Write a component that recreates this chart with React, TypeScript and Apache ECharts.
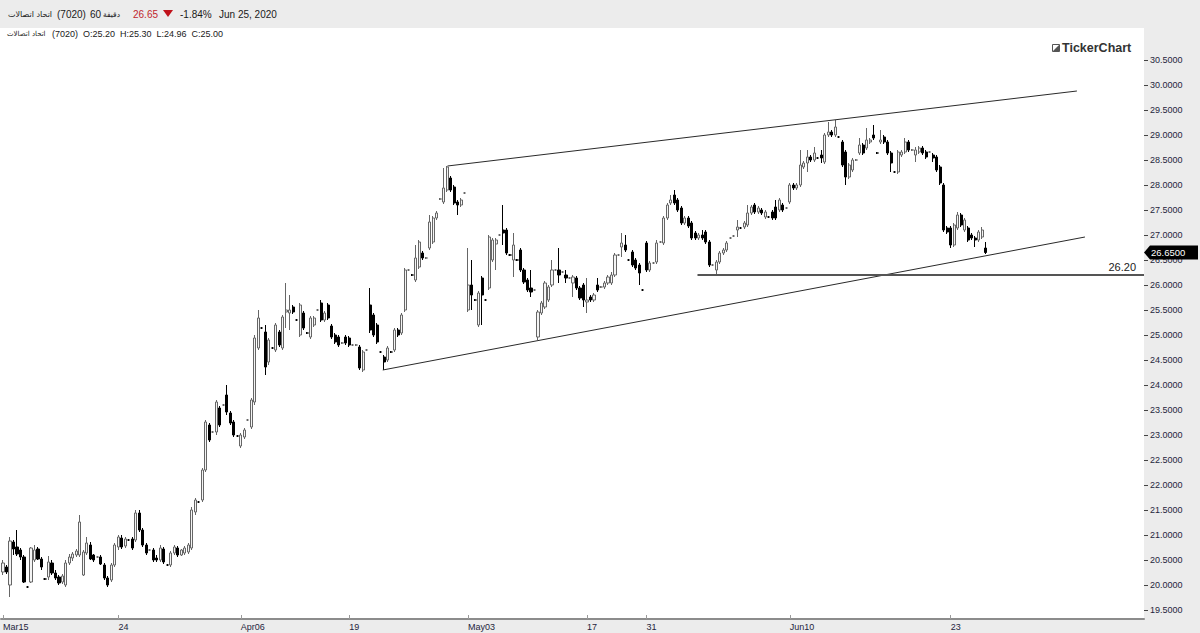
import React, { useEffect, useRef } from 'react';
import * as echarts from 'echarts';

// x-axis ticks: bar index -> label
const tickIndex = [0, 33, 68, 99, 133, 167, 184, 225, 271];
const tickLabels = ['Mar15', '24', 'Apr06', '19', 'May03', '17', '31', 'Jun10', '23'];

// y-axis tick values
const priceTicks = [19.5, 20, 20.5, 21, 21.5, 22, 22.5, 23, 23.5, 24, 24.5, 25, 25.5, 26, 26.5, 27, 27.5, 28, 28.5, 29, 29.5, 30, 30.5];

// hourly candles: [open, close, low, high]
const candles: number[][] = [
  [20.26, 20.44, 20.2, 20.5], [20.36, 20.26, 20.22, 20.4], [20.0, 20.88, 19.76, 20.96], [20.86, 20.72, 20.6, 20.9],
  [20.76, 20.62, 20.58, 21.1], [20.7, 20.56, 20.5, 20.74], [20.56, 20.06, 20.04, 20.6], [19.96, 19.96, 19.94, 19.98],
  [20.06, 20.74, 20.04, 20.76], [20.5, 20.7, 20.46, 20.8], [20.72, 20.52, 20.5, 20.76], [20.52, 20.36, 20.3, 20.56],
  [20.12, 20.12, 20.1, 20.14], [20.16, 20.46, 20.1, 20.58], [20.44, 20.24, 20.2, 20.5], [20.24, 20.14, 20.1, 20.3],
  [20.16, 20.04, 20.0, 20.2], [20.06, 20.18, 20.02, 20.22], [20.0, 20.44, 19.96, 20.5], [20.44, 20.56, 20.4, 20.62],
  [20.54, 20.62, 20.48, 20.66], [20.6, 20.68, 20.56, 20.72], [20.6, 21.26, 20.56, 21.4], [20.2, 20.66, 20.18, 20.7],
  [20.64, 20.84, 20.6, 20.96], [20.8, 20.52, 20.5, 20.86], [20.6, 20.5, 20.46, 20.62], [20.56, 20.56, 20.54, 20.58],
  [20.56, 20.42, 20.4, 20.6], [20.4, 20.14, 20.1, 20.44], [20.14, 20.0, 19.96, 20.18], [20.1, 20.4, 20.06, 20.44],
  [20.4, 20.8, 20.36, 20.84], [20.76, 20.96, 20.7, 21.0], [20.94, 20.76, 20.72, 21.0], [20.78, 20.92, 20.74, 20.96],
  [20.9, 20.9, 20.88, 20.92], [20.92, 20.74, 20.7, 20.96], [20.9, 21.44, 20.86, 21.5], [21.44, 21.1, 21.06, 21.5],
  [21.1, 20.8, 20.76, 21.14], [20.8, 20.64, 20.6, 20.84], [20.7, 20.7, 20.68, 20.72], [20.7, 20.5, 20.46, 20.74],
  [20.54, 20.5, 20.46, 20.6], [20.5, 20.74, 20.46, 20.8], [20.72, 20.46, 20.42, 20.76], [20.4, 20.4, 20.38, 20.42],
  [20.4, 20.64, 20.36, 20.68], [20.64, 20.76, 20.6, 20.8], [20.74, 20.6, 20.56, 20.78], [20.6, 20.7, 20.58, 20.72],
  [20.64, 20.74, 20.6, 20.78], [20.66, 20.8, 20.62, 20.84], [20.74, 21.5, 20.7, 21.56], [21.46, 21.7, 21.4, 21.74],
  [21.66, 21.66, 21.64, 21.68], [21.7, 22.3, 21.66, 22.34], [22.3, 23.26, 22.26, 23.3], [23.2, 22.9, 22.86, 23.24],
  [23.06, 23.06, 23.04, 23.08], [23.06, 23.66, 23.0, 23.7], [23.54, 23.2, 23.16, 23.58], [23.6, 23.6, 23.58, 23.62],
  [23.8, 23.46, 23.4, 24.0], [23.44, 23.24, 23.2, 23.48], [23.26, 23.0, 22.96, 23.3], [22.98, 22.98, 22.96, 23.0],
  [22.78, 23.0, 22.74, 23.04], [22.96, 23.1, 22.92, 23.14], [23.3, 23.3, 23.28, 23.32], [23.16, 23.7, 23.12, 23.74],
  [23.66, 24.94, 23.6, 25.0], [24.74, 25.34, 24.7, 25.5], [25.14, 25.14, 25.12, 25.16], [25.06, 24.36, 24.2, 25.2],
  [24.46, 24.9, 24.4, 24.94], [24.74, 24.74, 24.72, 24.76], [24.7, 25.2, 24.66, 25.24], [25.06, 24.8, 24.76, 25.1],
  [24.74, 25.36, 24.7, 25.4], [25.46, 25.5, 25.14, 26.04], [25.44, 25.5, 25.1, 25.8], [25.56, 25.46, 25.42, 25.6],
  [25.3, 25.3, 25.28, 25.32], [25.0, 25.6, 24.96, 25.64], [25.44, 25.14, 25.1, 25.48], [25.04, 25.04, 25.02, 25.06],
  [24.96, 25.34, 24.92, 25.38], [25.2, 25.34, 25.16, 25.38], [25.5, 25.5, 25.48, 25.52], [25.64, 25.3, 25.26, 25.7],
  [25.3, 25.44, 25.26, 25.48], [25.6, 25.34, 25.3, 25.64], [25.18, 24.96, 24.92, 25.22], [25.0, 24.86, 24.82, 25.04],
  [24.96, 24.8, 24.76, 25.0], [24.84, 24.84, 24.82, 24.86], [24.96, 24.84, 24.8, 25.0], [24.94, 24.8, 24.76, 24.98],
  [24.8, 24.8, 24.78, 24.82], [24.8, 24.8, 24.78, 24.82], [24.76, 24.34, 24.3, 24.8], [24.3, 24.66, 24.26, 24.7],
  [24.7, 24.7, 24.68, 24.72], [25.6, 25.1, 25.04, 25.94], [25.4, 25.0, 24.96, 25.44], [25.2, 24.86, 24.82, 25.24],
  [24.66, 24.66, 24.64, 24.68], [24.56, 24.46, 24.3, 24.6], [24.5, 24.74, 24.46, 24.78], [24.66, 24.66, 24.64, 24.68],
  [24.7, 25.1, 24.66, 25.14], [25.1, 25.0, 24.96, 25.14], [25.04, 25.4, 25.0, 25.44], [25.5, 26.3, 25.46, 26.34],
  [26.3, 26.3, 26.28, 26.32], [26.2, 26.2, 26.18, 26.22], [26.1, 26.54, 26.06, 26.8], [26.36, 26.86, 26.32, 26.9],
  [26.64, 26.54, 26.5, 26.68], [26.54, 26.54, 26.52, 26.56], [26.74, 27.26, 26.7, 27.4], [26.86, 27.34, 26.82, 27.38],
  [27.34, 27.44, 27.3, 27.48], [27.72, 27.72, 27.7, 27.74], [27.66, 27.94, 27.62, 28.34], [27.9, 28.36, 27.86, 28.38],
  [28.14, 27.9, 27.86, 28.18], [27.96, 27.64, 27.6, 28.0], [27.66, 27.6, 27.4, 27.7], [27.6, 27.7, 27.56, 27.74],
  [27.84, 27.84, 27.82, 27.86], [25.5, 26.0, 25.46, 26.74], [26.0, 25.8, 25.5, 26.5], [25.7, 25.7, 25.68, 25.72],
  [25.2, 25.84, 25.16, 25.88], [26.14, 25.8, 25.2, 26.18], [25.7, 25.7, 25.68, 25.72], [25.94, 26.96, 25.9, 27.0],
  [26.5, 26.9, 26.46, 26.94], [26.82, 26.9, 26.3, 26.94], [27.0, 27.0, 26.98, 27.02], [27.1, 27.04, 26.8, 27.6],
  [27.1, 26.64, 26.6, 27.14], [26.6, 26.6, 26.58, 26.62], [26.5, 26.8, 26.16, 27.04], [26.5, 26.5, 26.48, 26.52],
  [26.7, 26.3, 26.26, 26.74], [26.3, 26.06, 26.02, 26.34], [26.1, 25.9, 25.86, 26.14], [25.94, 25.86, 25.76, 26.3],
  [25.9, 25.9, 25.88, 25.92], [24.96, 25.46, 24.9, 25.5], [25.44, 25.64, 25.4, 25.68], [25.56, 26.04, 25.52, 26.08],
  [25.7, 25.96, 25.66, 26.0], [26.0, 26.3, 25.96, 26.5], [26.3, 26.3, 26.28, 26.32], [26.3, 26.2, 26.04, 26.74],
  [26.26, 26.26, 26.24, 26.28], [26.2, 26.14, 26.04, 26.3], [26.14, 26.14, 26.12, 26.16], [26.04, 26.16, 25.76, 26.2],
  [26.14, 25.94, 25.9, 26.18], [25.94, 25.74, 25.7, 25.98], [26.0, 25.7, 25.56, 26.04], [25.66, 25.7, 25.44, 26.14],
  [25.76, 25.7, 25.66, 25.8], [25.7, 25.8, 25.66, 25.84], [26.0, 25.9, 25.86, 26.14], [25.96, 25.96, 25.94, 25.98],
  [25.96, 26.04, 25.92, 26.08], [26.04, 26.16, 26.0, 26.2], [26.04, 26.2, 26.0, 26.26], [26.2, 26.6, 26.16, 26.64],
  [26.6, 26.6, 26.58, 26.62], [26.76, 26.84, 26.56, 27.04], [26.8, 26.7, 26.66, 27.0], [26.5, 26.5, 26.48, 26.52],
  [26.66, 26.4, 26.36, 26.7], [26.5, 26.34, 26.3, 26.54], [26.4, 26.24, 26.0, 26.44], [25.9, 25.9, 25.88, 25.92],
  [26.84, 26.3, 26.26, 26.88], [26.3, 26.44, 26.26, 26.48], [26.44, 26.44, 26.42, 26.46], [26.46, 26.84, 26.42, 26.9],
  [26.86, 26.86, 26.84, 26.88], [26.84, 27.34, 26.8, 27.38], [27.34, 27.6, 27.3, 27.64], [27.64, 27.7, 27.6, 27.8],
  [27.8, 27.64, 27.6, 27.9], [27.7, 27.5, 27.46, 27.74], [27.54, 27.24, 27.2, 27.58], [27.24, 27.34, 27.2, 27.38],
  [27.34, 27.18, 27.14, 27.38], [27.24, 26.94, 26.9, 27.28], [27.04, 26.94, 26.9, 27.08], [26.94, 27.0, 26.9, 27.04],
  [27.0, 26.94, 26.9, 27.1], [27.06, 26.86, 26.82, 27.1], [26.86, 26.4, 26.36, 26.9], [26.4, 26.4, 26.38, 26.42],
  [26.3, 26.46, 26.2, 26.5], [26.46, 26.64, 26.42, 26.68], [26.64, 26.7, 26.6, 26.74], [26.7, 26.84, 26.66, 26.88],
  [26.94, 26.94, 26.92, 26.96], [26.98, 26.98, 26.96, 27.0], [27.1, 27.16, 26.96, 27.3], [27.14, 27.14, 27.12, 27.16],
  [27.16, 27.24, 27.12, 27.28], [27.2, 27.44, 27.16, 27.6], [27.44, 27.56, 27.4, 27.6], [27.6, 27.46, 27.42, 27.64],
  [27.46, 27.54, 27.42, 27.58], [27.5, 27.44, 27.4, 27.54], [27.36, 27.46, 27.32, 27.5], [27.36, 27.36, 27.34, 27.38],
  [27.46, 27.34, 27.3, 27.5], [27.56, 27.34, 27.3, 27.7], [27.5, 27.7, 27.46, 27.74], [27.6, 27.5, 27.46, 27.64],
  [27.54, 27.54, 27.52, 27.56], [27.66, 28.0, 27.62, 28.04], [28.0, 27.94, 27.9, 28.04], [27.94, 28.0, 27.9, 28.04],
  [28.0, 28.4, 27.96, 28.7], [28.36, 28.44, 28.32, 28.48], [28.44, 28.56, 28.26, 28.7], [28.56, 28.5, 28.46, 28.6],
  [28.5, 28.64, 28.46, 28.76], [28.54, 28.54, 28.52, 28.56], [28.6, 28.54, 28.44, 28.7], [28.46, 29.0, 28.42, 29.04],
  [29.0, 29.06, 28.96, 29.26], [29.06, 29.0, 28.96, 29.1], [29.0, 29.16, 28.96, 29.3], [28.96, 28.96, 28.94, 28.98],
  [28.86, 28.4, 28.36, 28.9], [28.66, 28.16, 28.0, 28.7], [28.16, 28.4, 28.12, 28.44], [28.3, 28.5, 28.26, 28.54],
  [28.5, 28.5, 28.48, 28.52], [28.64, 28.8, 28.6, 28.94], [28.8, 28.64, 28.6, 28.84], [28.74, 28.9, 28.7, 29.14],
  [28.86, 28.9, 28.82, 28.94], [29.0, 28.94, 28.9, 29.2], [28.64, 28.64, 28.62, 28.66], [28.86, 28.9, 28.82, 29.1],
  [28.96, 28.86, 28.82, 29.0], [28.86, 28.64, 28.6, 28.9], [28.64, 28.44, 28.26, 28.68], [28.26, 28.26, 28.24, 28.28],
  [28.26, 28.66, 28.22, 28.7], [28.6, 28.66, 28.56, 28.7], [28.66, 28.86, 28.62, 28.94], [28.86, 28.7, 28.66, 28.9],
  [28.7, 28.7, 28.68, 28.72], [28.6, 28.7, 28.46, 28.76], [28.66, 28.74, 28.62, 28.78], [28.74, 28.64, 28.6, 28.78],
  [28.66, 28.56, 28.52, 28.7], [28.66, 28.66, 28.64, 28.68], [28.6, 28.54, 28.46, 28.64], [28.56, 28.3, 28.26, 28.6],
  [28.36, 28.04, 28.0, 28.4], [28.0, 27.1, 27.06, 28.04], [27.14, 27.06, 27.02, 27.18], [27.14, 26.8, 26.74, 27.18],
  [26.8, 27.2, 26.76, 27.24], [27.14, 27.4, 27.1, 27.46], [27.4, 27.2, 27.16, 27.44], [27.1, 27.3, 27.06, 27.34],
  [27.14, 26.9, 26.86, 27.18], [27.0, 26.94, 26.9, 27.04], [26.94, 26.9, 26.76, 26.98], [26.9, 27.06, 26.86, 27.1],
  [26.96, 27.1, 26.92, 27.16], [26.74, 26.65, 26.62, 26.86],
];

// drawn annotations: [bar index, price]
const upperTrend = [[127.1, 28.38], [307.1, 29.88]];
const lowerTrend = [[108.6, 24.3], [309.4, 26.96]];
const supportLevel = 26.2;
const supportStartIndex = 198.6;
const lastPrice = 26.65;

const X_MIN = -0.5714;
const X_MAX = 326.29;
const Y_MIN = 19.32;
const Y_MAX = 31.14;

const LATIN = 'Liberation Sans, DejaVu Sans, sans-serif';
const ARABIC = 'DejaVu Sans, sans-serif';

export default function App() {
  const ref = useRef<HTMLDivElement>(null);
  useEffect(() => {
    if (!ref.current) return;
    const chart = echarts.init(ref.current, null, { renderer: 'svg' });
    const option: any = {
      animation: false,
      backgroundColor: '#ffffff',
      grid: { left: 0, right: 56, top: 28, bottom: 14, containLabel: false },
      xAxis: {
        type: 'value',
        min: X_MIN,
        max: X_MAX,
        splitLine: { show: false },
        axisLine: { show: true, onZero: false, lineStyle: { color: '#8c8c8c', width: 2 } },
        axisTick: { show: true, inside: true, length: 4, customValues: tickIndex, lineStyle: { color: '#9a9a9a' } },
        axisLabel: {
          show: true,
          customValues: tickIndex,
          formatter: (v: number) => {
            const k = tickIndex.indexOf(Math.round(v));
            return k >= 0 ? tickLabels[k] : '';
          },
          align: 'left',
          margin: 3,
          fontSize: 9,
          fontFamily: LATIN,
          color: '#1f1f3d',
        },
      },
      yAxis: {
        type: 'value',
        position: 'right',
        min: Y_MIN,
        max: Y_MAX,
        scale: true,
        splitLine: { show: false },
        axisLine: { show: false, onZero: false },
        axisTick: { show: true, length: 4, customValues: priceTicks, lineStyle: { color: '#444444' } },
        axisLabel: {
          show: true,
          customValues: priceTicks,
          formatter: (v: number) => v.toFixed(4),
          margin: 6,
          fontSize: 9,
          fontFamily: LATIN,
          color: '#1f1f3d',
        },
      },
      series: [
        {
          type: 'candlestick',
          data: candles.map((c, i) => [i, c[0], c[1], c[2], c[3]]),
          encode: { x: 0, y: [1, 2, 3, 4] },
          barWidth: 2.6,
          itemStyle: {
            color: '#f4f4f4',
            color0: '#000000',
            borderColor: '#666666',
            borderColor0: '#000000',
            borderWidth: 1,
          },
          markLine: {
            silent: true,
            symbol: ['none', 'none'],
            lineStyle: { type: 'solid', color: '#555555', width: 2 },
            label: {
              show: true,
              position: 'insideEndTop',
              formatter: supportLevel.toFixed(2),
              color: '#222222',
              fontSize: 11,
              fontFamily: LATIN,
              distance: [8, 3],
            },
            data: [[{ coord: [supportStartIndex, supportLevel] }, { coord: [X_MAX, supportLevel] }]],
          },
        },
        {
          type: 'line',
          data: upperTrend,
          symbol: 'none',
          silent: true,
          lineStyle: { color: '#2a2a2a', width: 1 },
        },
        {
          type: 'line',
          data: lowerTrend,
          symbol: 'none',
          silent: true,
          lineStyle: { color: '#2a2a2a', width: 1 },
        },
      ],
    };
    chart.setOption(option);

    const tagY = chart.convertToPixel({ yAxisIndex: 0 }, lastPrice) as number;
    const txt = (text: string, x: number, y: number, size: number, fill: string, family = LATIN, weight = 'normal', z = 50) => ({
      type: 'text',
      x,
      y,
      z,
      style: {
        text,
        fill,
        font: `${weight} ${size}px ${family}`,
        textAlign: 'left',
        textVerticalAlign: 'middle',
      },
    });

    chart.setOption({
      graphic: [
        { type: 'rect', z: -5, shape: { x: 0, y: 0, width: 1200, height: 28 }, style: { fill: '#ececec' } },
        { type: 'rect', z: -5, shape: { x: 1144, y: 28, width: 56, height: 605 }, style: { fill: '#ececec' } },
        { type: 'rect', z: -5, shape: { x: 0, y: 620, width: 1144, height: 13 }, style: { fill: '#ececec' } },
        txt('اتحاد اتصالات', 8, 14, 8, '#1a1a1a', ARABIC),
        txt('(7020)', 57, 14, 10, '#1a1a1a'),
        txt('60', 90, 14, 10, '#1a1a1a'),
        txt('دقيقة', 103, 14, 7.5, '#1a1a1a', ARABIC),
        txt('26.65', 133, 14, 10, '#c0272d'),
        {
          type: 'polygon',
          z: 50,
          shape: { points: [[163, 10], [173, 10], [168, 17]] },
          style: { fill: '#c0121b' },
        },
        txt('-1.84%', 180, 14, 10, '#1a1a1a'),
        txt('Jun 25, 2020', 219, 14, 10, '#1a1a1a'),
        txt('اتحاد اتصالات', 7, 34, 7, '#1a1a1a', ARABIC),
        txt('(7020)  O:25.20  H:25.30  L:24.96  C:25.00', 52, 34, 9, '#1a1a1a'),
        {
          type: 'rect',
          z: 50,
          shape: { x: 1052.5, y: 44.5, width: 7, height: 7 },
          style: { fill: '#ffffff', stroke: '#555555', lineWidth: 1 },
        },
        {
          type: 'polygon',
          z: 51,
          shape: { points: [[1053, 51], [1059, 45], [1059, 51]] },
          style: { fill: '#555555' },
        },
        txt('TickerChart', 1062, 48, 12.5, '#333333', LATIN, 'bold'),
        {
          type: 'polygon',
          z: 60,
          shape: {
            points: [
              [1144, tagY],
              [1150, tagY - 7],
              [1198, tagY - 7],
              [1198, tagY + 7],
              [1150, tagY + 7],
            ],
          },
          style: { fill: '#000000' },
        },
        txt(lastPrice.toFixed(4), 1151, tagY, 9.5, '#ffffff', LATIN, 'normal', 70),
      ],
    });

    return () => chart.dispose();
  }, []);

  return <div ref={ref} style={{ position: 'absolute', left: 0, top: 0, width: 1200, height: 633 }} />;
}
